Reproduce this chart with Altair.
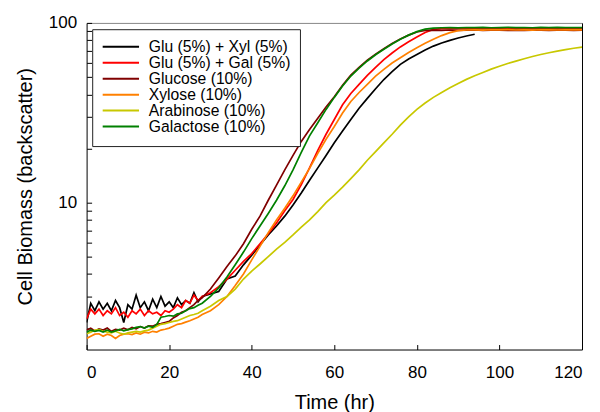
import altair as alt
import pandas as pd

# ---- data ----
LAG_T = list(range(0, 29))          # hours 0..28
GROW_T = list(range(30, 121, 2))    # hours 30..120
TIME = LAG_T + GROW_T

SERIES = ["Glu (5%) + Xyl (5%)", "Glu (5%) + Gal (5%)", "Glucose (10%)",
          "Xylose (10%)", "Arabinose (10%)", "Galactose (10%)"]
COLORS = ["#000000", "#FF0000", "#800000", "#FF8000", "#C8C800", "#008000"]

GLU_XYL = [2.15, 2.75, 2.5, 2.8, 2.55, 2.75, 2.5, 2.85, 2.6, 2.15, 2.7, 2.55, 3.05, 2.6, 2.8,
           2.5, 2.9, 2.6, 3.0, 2.65, 2.8, 2.6, 2.95, 2.7, 2.85, 2.75, 3.15, 2.8, 3.0,
           3.1, 3.2, 3.75, 3.9, 4.5, 5.1, 5.8, 6.6, 7.4, 8.4, 9.7, 11.3, 13.3, 15.6, 18.3,
           21.5, 25.0, 29.0, 33.5, 38.0, 43.0, 48.4, 53.5, 58.8, 63.0, 66.8, 70.7, 74.3,
           77.3, 80.0, 82.4, 84.6, 86.5]
GLU_GAL = [2.25, 2.55, 2.4, 2.55, 2.35, 2.5, 2.4, 2.6, 2.35, 2.45, 2.3, 2.5, 2.4, 2.55, 2.35,
           2.5, 2.4, 2.45, 2.35, 2.5, 2.45, 2.55, 2.7, 2.6, 2.85, 2.75, 3.05, 2.85, 3.0,
           3.15, 3.4, 3.75, 4.2, 4.7, 5.2, 5.9, 6.7, 7.7, 9.0, 10.4, 12.6, 15.6, 19.5, 24.0,
           29.0, 35.0, 40.5, 45.5, 51.0, 56.5, 62.5, 68.0, 73.5, 78.5, 83.5, 88.5, 92.0,
           93.0, 93.3, 93.0, 93.4, 93.1, 92.8, 93.2, 93.0, 92.7, 93.1, 92.9, 93.2, 92.8,
           93.0, 92.7, 93.1, 92.9, 93.0]
GLUCOSE = [1.95, 2.0, 1.93, 1.98, 1.95, 2.0, 1.92, 1.97, 1.95, 2.0, 1.96, 2.02, 1.98, 2.04, 2.0,
           2.06, 2.05, 2.1, 2.12, 2.15, 2.18, 2.28, 2.35, 2.45, 2.5, 2.6, 2.7, 2.85, 2.95,
           3.3, 3.8, 4.4, 5.05, 5.9, 7.1, 8.4, 10.3, 12.5, 15.2, 18.3, 21.9, 25.5, 29.5, 34.0,
           38.8, 45.0, 51.2, 56.6, 62.0, 67.0, 71.8, 76.8, 81.3, 85.5, 89.0, 90.8, 91.2,
           91.0, 91.3, 90.9, 91.1, 91.3, 90.8, 91.0, 91.2, 90.9, 91.1, 90.8, 91.0, 91.2,
           90.9, 91.0, 91.1, 90.8, 91.0]
XYLOSE = [1.75, 1.8, 1.85, 1.86, 1.8, 1.85, 1.82, 1.75, 1.82, 1.85, 1.86, 1.84, 1.88, 1.85, 1.9,
          1.88, 1.92, 1.9, 1.95, 1.97, 2.0, 2.05, 2.1, 2.12, 2.16, 2.2, 2.25, 2.3, 2.38,
          2.5, 2.7, 3.0, 3.45, 4.0, 4.8, 5.7, 6.8, 8.0, 9.3, 10.9, 13.0, 15.5, 18.8, 22.5,
          26.5, 31.5, 36.5, 41.0, 45.5, 50.5, 55.1, 59.8, 64.0, 68.5, 72.8, 77.0, 81.1,
          85.0, 88.3, 90.5, 91.3, 91.5, 91.2, 91.6, 91.4, 91.7, 91.3, 91.5, 91.2, 91.6,
          91.4, 91.3, 91.6, 91.4, 91.5]
ARABINOSE = [1.86, 1.9, 1.95, 1.96, 1.92, 1.9, 1.88, 1.92, 1.88, 1.85, 1.88, 1.9, 1.92, 1.9, 1.93,
             1.95, 2.0, 2.05, 2.1, 2.12, 2.15, 2.18, 2.2, 2.25, 2.3, 2.35, 2.38, 2.42, 2.5,
             2.65, 2.85, 3.0, 3.3, 3.75, 4.15, 4.55, 5.0, 5.5, 6.0, 6.6, 7.3, 8.0, 8.9, 10.0,
             11.0, 12.2, 13.6, 15.2, 17.2, 19.2, 21.5, 24.0, 27.0, 30.0, 33.0, 35.8, 38.5,
             41.0, 43.5, 46.0, 48.5, 50.8, 53.0, 55.3, 57.4, 59.4, 61.3, 63.2, 65.0, 66.7,
             68.2, 69.6, 71.0, 72.3, 73.4]
GALACTOSE = [1.9, 1.95, 1.92, 1.94, 1.9, 1.95, 1.9, 1.93, 1.97, 1.93, 1.96, 1.98, 2.02, 2.04, 2.0,
             2.05, 2.02, 2.1, 2.3, 2.32, 2.35, 2.33, 2.4, 2.42, 2.5, 2.57, 2.6, 2.68, 2.75,
             3.0, 3.35, 3.85, 4.5, 5.3, 6.3, 7.4, 8.7, 10.3, 12.4, 15.2, 19.0, 23.5, 27.8, 33.0,
             38.5, 44.5, 50.6, 56.0, 61.4, 66.5, 71.3, 76.3, 81.1, 85.5, 89.4, 92.3, 93.6,
             94.0, 94.2, 93.9, 94.3, 94.1, 94.4, 94.0, 94.2, 94.5, 94.1, 94.3, 94.0, 94.4,
             94.2, 94.5, 94.1, 94.3, 94.2]
VALUES = [GLU_XYL, GLU_GAL, GLUCOSE, XYLOSE, ARABINOSE, GALACTOSE]

X_TICKS = [0, 20, 40, 60, 80, 100, 120]
Y_LABEL_TICKS = [10, 100]
Y_MINOR_TICKS = [2, 3, 4, 5, 6, 7, 8, 9, 10, 20, 30, 40, 50, 60, 70, 80, 90, 100]

rows = []
for name, vals in zip(SERIES, VALUES):
    for t, v in zip(TIME, vals):
        rows.append({"t": t, "v": v, "s": name})
df = pd.DataFrame(rows)

W, H = 496, 327
FONT = "Liberation Sans"
xs = alt.Scale(domain=[0, 120], nice=False, zero=False)
ys = alt.Scale(type="log", domain=[1.52, 100], nice=False)

lines = alt.Chart(df).mark_line(strokeWidth=1.7, clip=True).encode(
    x=alt.X("t:Q", scale=xs, axis=alt.Axis(
        title="Time (hr)", values=X_TICKS, tickSize=0, labelPadding=15.5,
        domainColor="black", grid=False, titleX=W / 2, titleY=59,
        titleBaseline="alphabetic", titleAlign="center")),
    y=alt.Y("v:Q", scale=ys, axis=alt.Axis(
        title="Cell Biomass (backscatter)", values=Y_LABEL_TICKS, tickSize=0,
        labelPadding=10, domainColor="black", grid=False, titleX=-55,
        titleY=H / 2, titleAngle=-90, titleBaseline="alphabetic",
        titleAlign="center")),
    color=alt.Color("s:N", sort=SERIES,
                    scale=alt.Scale(domain=SERIES, range=COLORS),
                    legend=alt.Legend(
                        orient="none", legendX=5.6, legendY=6.3,
                        title=" ", titleOrient="bottom", titleFontSize=1,
                        titlePadding=0.5,
                        strokeColor="#222222", fillColor="white", padding=9.5,
                        labelFont=FONT, labelFontSize=15.7, labelColor="black",
                        symbolType="M-2.6,0H2.6", symbolSize=196, symbolStrokeWidth=2,
                        symbolOffset=11.2, rowPadding=-0.5, labelOffset=20,
                        labelLimit=300)),
)

# inward tick marks (axes moved onto the opposite edges)
ticks = alt.Chart(df).mark_line(strokeOpacity=0).encode(
    x=alt.X("t:Q", scale=xs, axis=alt.Axis(
        orient="top", offset=-H, values=X_TICKS, tickSize=5, labels=False,
        domain=False, grid=False, title=None, tickColor="black")),
    y=alt.Y("v:Q", scale=ys, axis=alt.Axis(
        orient="right", offset=-W, values=Y_MINOR_TICKS, tickSize=5, labels=False,
        domain=False, grid=False, title=None, tickColor="black")),
)

# frame: grey top edge, black right edge
frame = alt.Chart(df).mark_line(strokeOpacity=0).encode(
    x=alt.X("t:Q", scale=xs, axis=alt.Axis(
        orient="top", ticks=False, labels=False, domainColor="#888888",
        grid=False, title=None)),
    y=alt.Y("v:Q", scale=ys, axis=alt.Axis(
        orient="right", ticks=False, labels=False, domainColor="black",
        grid=False, title=None)),
)

chart = alt.layer(lines, ticks, frame).resolve_axis(
    x="independent", y="independent"
).properties(
    width=W, height=H,
    autosize=alt.AutoSizeParams(type="none"),
    padding={"left": 78.7, "top": 14.7, "right": 10, "bottom": 62},
).configure_view(strokeWidth=0).configure_axis(
    labelFont=FONT, labelFontSize=17, labelColor="black",
    titleFont=FONT, titleFontSize=20, titleFontWeight="normal", titleColor="black",
    domainWidth=1,
)

chart.save("out.html", embed_options={"renderer": "svg", "actions": False})
